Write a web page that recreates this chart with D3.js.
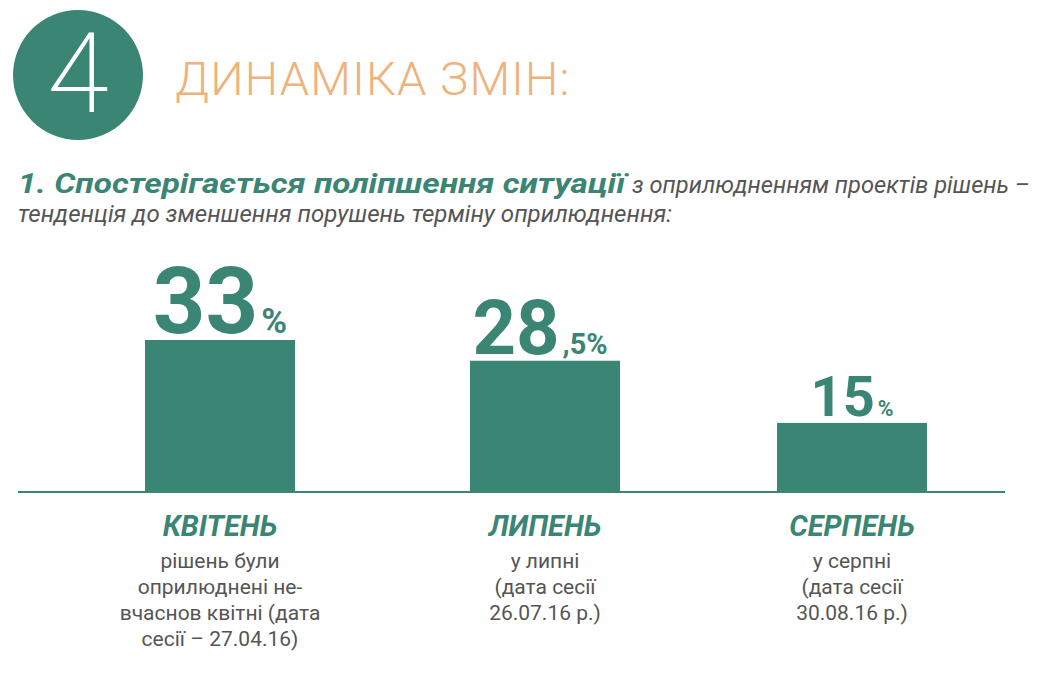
<!DOCTYPE html>
<html><head><meta charset="utf-8">
<script src="https://cdn.jsdelivr.net/npm/d3@7"></script>
<style>body{margin:0;background:#fff}</style>
</head><body>
<script>
const width = 1049, height = 675;
const teal = "#3b8574";

// data
const months = ["КВІТЕНЬ", "ЛИПЕНЬ", "СЕРПЕНЬ"];
const values = [33, 28.5, 15];
const bigLabels = ["33", "28", "15"];
const smallLabels = ["%", ",5%", "%"];
const bigSizes = [92, 76, 56];
const notes = [
  ["рішень були", "оприлюднені не-", "вчаснов квітні (дата", "сесії – 27.04.16)"],
  ["у липні", "(дата сесії", "26.07.16 р.)"],
  ["у серпні", "(дата сесії", "30.08.16 р.)"]
];

const svg = d3.select("body").append("svg").attr("width", width).attr("height", height)
  .style("font-family", "Roboto, 'Open Sans', sans-serif");

// header
svg.append("circle").attr("cx", 78).attr("cy", 75).attr("r", 65).attr("fill", teal);
svg.append("text").attr("x", 78).attr("y", 112).attr("text-anchor", "middle")
  .attr("fill", "#fff").attr("font-size", 112).attr("font-weight", 200).text("4");
svg.append("text").attr("x", 175).attr("y", 95).attr("fill", "#eeb27a")
  .attr("font-size", 47).attr("font-weight", 300).attr("letter-spacing", 1.2).text("ДИНАМІКА ЗМІН:");

// subtitle
svg.append("text").attr("x", 18).attr("y", 193).attr("font-style", "italic").attr("font-weight", "bold")
  .attr("font-size", 27).attr("fill", teal).attr("textLength", 607).attr("lengthAdjust", "spacingAndGlyphs")
  .text("1. Спостерігається поліпшення ситуації");
svg.append("text").attr("x", 632).attr("y", 193).attr("font-style", "italic").attr("font-size", 23)
  .attr("fill", "#555").attr("textLength", 398).attr("lengthAdjust", "spacingAndGlyphs")
  .text("з оприлюдненням проектів рішень –");
svg.append("text").attr("x", 18).attr("y", 222).attr("font-style", "italic").attr("font-size", 23)
  .attr("fill", "#555").attr("textLength", 654).attr("lengthAdjust", "spacingAndGlyphs")
  .text("тенденція до зменшення порушень терміну оприлюднення:");

// scales
const baseY = 492;
const x = d3.scaleOrdinal().domain(months).range([220, 545, 852]);
const y = d3.scaleLinear().domain([0, 33]).range([baseY, 340]);
const bw = 150;

svg.selectAll("rect.bar").data(values).enter().append("rect")
  .attr("x", (d, i) => x(months[i]) - bw / 2).attr("y", d => y(d))
  .attr("width", bw).attr("height", d => baseY - y(d)).attr("fill", teal);

svg.append("line").attr("x1", 18).attr("x2", 1005).attr("y1", baseY).attr("y2", baseY)
  .attr("stroke", teal).attr("stroke-width", 2);

values.forEach((v, i) => {
  const t = svg.append("text").attr("x", x(months[i]) - (i === 1 ? 5 : 0)).attr("y", y(v) - 7)
    .attr("text-anchor", "middle").attr("fill", teal).attr("font-weight", "bold");
  t.append("tspan").attr("font-size", bigSizes[i]).text(bigLabels[i]);
  t.append("tspan").attr("font-size", bigSizes[i] * 0.38).attr("dx", 3).text(smallLabels[i]);

  svg.append("text").attr("x", x(months[i])).attr("y", 536).attr("text-anchor", "middle")
    .attr("fill", teal).attr("font-weight", "bold").attr("font-style", "italic")
    .attr("font-size", 29).text(months[i]);
  notes[i].forEach((line, j) => {
    svg.append("text").attr("x", x(months[i])).attr("y", 568 + j * 26).attr("text-anchor", "middle")
      .attr("fill", "#555").attr("font-size", 21).text(line);
  });
});
</script>
</body></html>
